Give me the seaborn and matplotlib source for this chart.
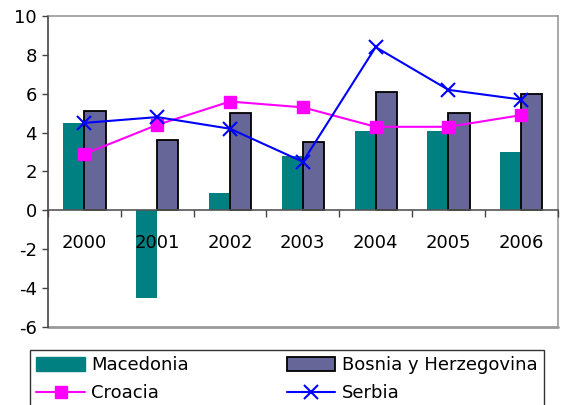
import numpy as np
import pandas as pd
import matplotlib
matplotlib.use('Agg')
import matplotlib.pyplot as plt
from matplotlib.patches import Patch
from matplotlib.lines import Line2D
import seaborn as sns

years = ['2000', '2001', '2002', '2003', '2004', '2005', '2006']
macedonia = [4.5, -4.5, 0.9, 2.8, 4.1, 4.1, 3.0]
bosnia = [5.1, 3.6, 5.0, 3.5, 6.1, 5.0, 6.0]
croacia = [2.9, 4.4, 5.6, 5.3, 4.3, 4.3, 4.9]
serbia = [4.5, 4.8, 4.2, 2.5, 8.4, 6.2, 5.7]

sns.set_style('white')
plt.rcParams['font.family'] = ['DejaVu Sans']
plt.rcParams['axes.unicode_minus'] = False
plt.rcParams['text.color'] = 'black'
plt.rcParams['xtick.labelcolor'] = 'black'
plt.rcParams['ytick.labelcolor'] = 'black'

bar_df = pd.DataFrame({
    'year': years * 2,
    'value': macedonia + bosnia,
    'country': ['Macedonia'] * len(years) + ['Bosnia y Herzegovina'] * len(years),
})

fig = plt.figure(figsize=(5.87, 4.05), dpi=100)
ax = fig.add_axes([48/587, 78/405, 509.7/587, 311/405])

sns.barplot(data=bar_df, x='year', y='value', hue='country', order=years,
            palette={'Macedonia': '#008080', 'Bosnia y Herzegovina': '#666699'},
            width=0.58, gap=0, saturation=1, ax=ax, legend=False)
for p in ax.patches[:len(years)]:
    p.set_linewidth(0)
# black edge only on Bosnia bars
for p in ax.patches[len(years):2*len(years)]:
    p.set_edgecolor('black')
    p.set_linewidth(1.3)

x = np.arange(len(years))
ax.plot(x, croacia, color='#FF00FF', marker='s', ms=8, lw=1.5, zorder=4)
ax.plot(x, serbia, color='#0000FF', marker='x', ms=10, mew=1.5, lw=1.5, zorder=4)

ax.set_xlim(-0.5, 6.5)
ax.set_ylim(-6, 10)
ax.set_yticks(range(-6, 11, 2))
ax.set_xlabel('')
ax.set_ylabel('')

ax.spines['bottom'].set_position(('data', 0))
ax.spines['bottom'].set_color('#555555')
ax.spines['left'].set_color('#444444')
ax.spines['top'].set_color('#999999')
ax.spines['right'].set_color('#999999')
for s in ['top', 'right', 'left', 'bottom']:
    ax.spines[s].set_linewidth(1.2)
ax.axhline(-6, color='#999999', lw=2, clip_on=False)

ax.set_xticks(x)
ax.set_xticklabels(years)
ax.set_xticks(np.arange(-0.5, 7, 1), minor=True)
ax.tick_params(axis='x', which='major', length=0, pad=17, labelsize=13)
ax.tick_params(axis='x', which='minor', direction='out', length=5, width=1, color='#444444', bottom=True)
ax.tick_params(axis='y', direction='out', length=4, width=1, color='#444444', left=True, labelsize=13, pad=4)
ax.set_axisbelow(False)
ax.xaxis.set_zorder(5)

handles = [
    Patch(facecolor='#008080', edgecolor='#008080'),
    Line2D([], [], color='#FF00FF', marker='s', ms=8, lw=1.5),
    Patch(facecolor='#666699', edgecolor='black', linewidth=1.3),
    Line2D([], [], color='#0000FF', marker='x', ms=10, mew=1.5, lw=1.5),
]
labels = ['Macedonia', 'Croacia', 'Bosnia y Herzegovina', 'Serbia']
leg = fig.legend(handles, labels, ncol=2, loc='upper left',
                 bbox_to_anchor=(30/587, 1 - 350/405), frameon=True,
                 fancybox=False, edgecolor='black', fontsize=13,
                 handlelength=2.7, handleheight=0.75, columnspacing=5.4,
                 labelspacing=0.55, borderpad=0.35, handletextpad=0.35,
                 borderaxespad=0)
leg.get_frame().set_linewidth(1.0)

fig.savefig('out.png', dpi=100)
